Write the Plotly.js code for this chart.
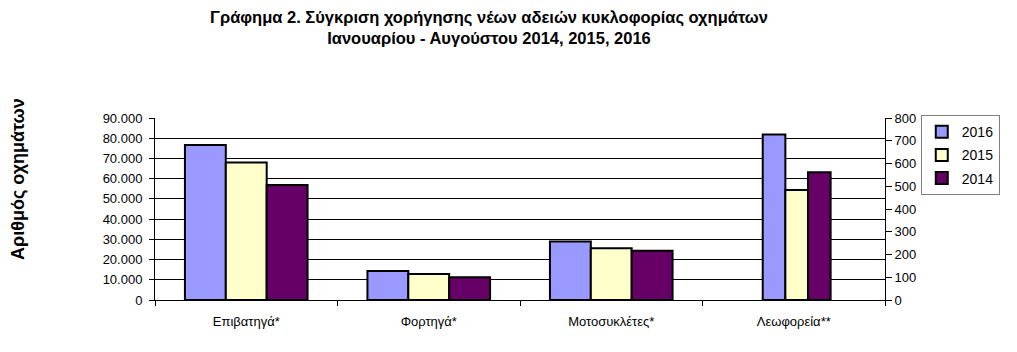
<!DOCTYPE html>
<html>
<head>
<meta charset="utf-8">
<script src="https://cdn.plot.ly/plotly-3.0.1.min.js"></script>
<style>html,body{margin:0;padding:0;background:#fff;}#chart{width:1017px;height:352px;}</style>
</head>
<body>
<div id="chart"></div>
<script>
var categories = ['Επιβατηγά*', 'Φορτηγά*', 'Μοτοσυκλέτες*', 'Λεωφορεία**'];
var years = ['2016', '2015', '2014'];
var v2016 = [76700, 14400, 28900, 728];
var v2015 = [68000, 12900, 25600, 483];
var v2014 = [56900, 11200, 24400, 561];
var leftTicks = [0, 10000, 20000, 30000, 40000, 50000, 60000, 70000, 80000, 90000];
var rightTicks = [0, 100, 200, 300, 400, 500, 600, 700, 800];
var titleText = '<b>Γράφημα 2. Σύγκριση χορήγησης νέων αδειών κυκλοφορίας οχημάτων<br>Ιανουαρίου - Αυγούστου 2014, 2015, 2016</b>';
var yTitleText = '<b>Αριθμός οχημάτων</b>';

var series = [v2016, v2015, v2014];
var colors = ['#9999FF', '#FFFFCC', '#660066'];
var mainW = 0.224, mainOff = [-0.336, -0.112, 0.112];
var busW = 0.124, busOff = [-0.17, -0.046, 0.078];

var traces = [];
series.forEach(function (vals, i) {
  var main = vals.map(function (v, j) { return j < 3 ? v : null; });
  var bus = vals.map(function (v, j) { return j === 3 ? v : null; });
  traces.push({
    type: 'bar', x: categories, y: main, name: years[i], legendgroup: years[i],
    width: mainW, offset: mainOff[i], yaxis: 'y',
    marker: { color: colors[i], line: { color: '#000', width: 2 } },
    hoverinfo: 'x+y+name'
  });
  traces.push({
    type: 'bar', x: categories, y: bus, name: years[i], legendgroup: years[i], showlegend: false,
    width: busW, offset: busOff[i], yaxis: 'y2',
    marker: { color: colors[i], line: { color: '#000', width: 2 } },
    hoverinfo: 'x+y+name'
  });
});

var font = 'Liberation Sans, Arial, sans-serif';
var layout = {
  width: 1017, height: 352,
  margin: { l: 155, r: 132, t: 118, b: 52, autoexpand: false },
  paper_bgcolor: '#fff', plot_bgcolor: '#fff',
  separators: ',.',
  barmode: 'overlay',
  font: { family: font, size: 13, color: '#000' },
  xaxis: {
    type: 'category', categoryorder: 'array', categoryarray: categories,
    range: [-0.5, 3.5], tickson: 'boundaries', ticks: 'outside', ticklen: 5, tickcolor: '#000',
    showline: true, linecolor: '#000', linewidth: 1, showgrid: false, zeroline: false,
    tickfont: { size: 13 }, ticklabelstandoff: 9, fixedrange: true
  },
  yaxis: {
    range: [0, 90000], tickvals: leftTicks, tickformat: ',d', ticks: 'outside', ticklen: 5, tickcolor: '#000',
    showline: true, linecolor: '#000', linewidth: 1, showgrid: true, gridcolor: '#000', gridwidth: 1,
    zeroline: false, tickfont: { size: 13 }, ticklabelstandoff: 4,
    automargin: false, fixedrange: true
  },
  yaxis2: {
    overlaying: 'y', side: 'right', range: [0, 800], tickvals: rightTicks, ticks: 'outside', ticklen: 6,
    tickcolor: '#000', showline: true, linecolor: '#000', linewidth: 1, showgrid: false, zeroline: false,
    tickfont: { size: 13 }, fixedrange: true, automargin: false
  },
  legend: {
    x: 1.049, xanchor: 'left', y: 1.016, yanchor: 'top',
    bordercolor: '#808080', borderwidth: 1, bgcolor: '#fff',
    font: { size: 14 }, tracegroupgap: 2, itemwidth: 30
  },
  showlegend: true,
  annotations: [
    {
      text: titleText, xref: 'paper', yref: 'paper', x: 0.4575, y: 1.615,
      xanchor: 'center', yanchor: 'top', showarrow: false, align: 'center',
      font: { family: font, size: 16.5, color: '#000' }
    },
    {
      text: yTitleText, xref: 'paper', yref: 'paper', x: -0.1877, y: 0.665,
      xanchor: 'center', yanchor: 'middle', showarrow: false, textangle: -90,
      font: { family: font, size: 18, color: '#000' }
    }
  ]
};

Plotly.newPlot('chart', traces, layout, { displayModeBar: false, staticPlot: true });
</script>
</body>
</html>
